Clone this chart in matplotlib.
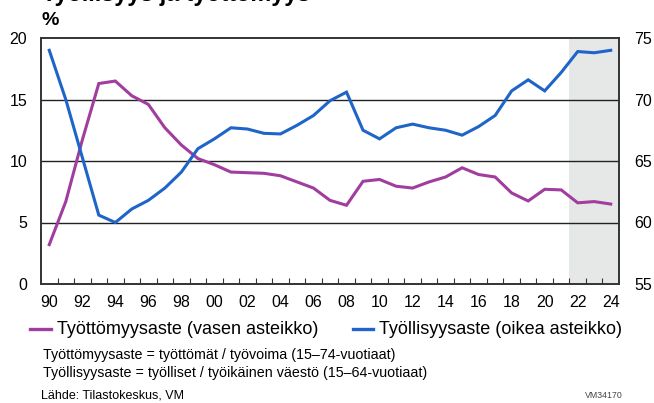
import matplotlib
matplotlib.use("Agg")
import matplotlib.pyplot as plt
import numpy as np

plt.rcParams['font.family'] = ['Liberation Sans', 'DejaVu Sans']

years = list(range(1990, 2025))
unemployment = [3.2, 6.7, 11.7, 16.3, 16.5, 15.3, 14.6, 12.7, 11.3, 10.2,
                9.7, 9.1, 9.05, 9.0, 8.8, 8.3, 7.8, 6.8, 6.4, 8.35,
                8.5, 7.95, 7.8, 8.3, 8.7, 9.45, 8.9, 8.7, 7.4, 6.75,
                7.7, 7.65, 6.6, 6.7, 6.5]
employment = [74.0, 70.0, 65.3, 60.6, 60.0, 61.1, 61.8, 62.8, 64.1, 66.0,
              66.8, 67.7, 67.6, 67.25, 67.2, 67.9, 68.7, 69.9, 70.6, 67.5,
              66.8, 67.7, 68.0, 67.7, 67.5, 67.1, 67.8, 68.7, 70.7, 71.6,
              70.7, 72.2, 73.9, 73.8, 74.0]
xtick_years = list(range(1990, 2025, 2))
xtick_labels = [f"{y % 100:02d}" for y in xtick_years]
left_ticks = [0, 5, 10, 15, 20]
right_ticks = [55, 60, 65, 70, 75]
forecast_start = 2021.5

purple = '#a13d9e'
blue = '#1f64c8'

fig = plt.figure(figsize=(6.54, 4.03), dpi=100)
ax = fig.add_axes([41/654, 1-284/403, (619-41)/654, (284-38)/403])
ax2 = ax.twinx()

ax.axvspan(forecast_start, 2024.5, color='#e6e8e8', zorder=0, lw=0)
for g in [5, 10, 15]:
    ax.axhline(g, color='#222222', lw=1.0, zorder=1)

ax.plot(years, unemployment, color=purple, lw=2.2, zorder=3, solid_joinstyle='miter')
ax2.plot(years, employment, color=blue, lw=2.2, zorder=3, solid_joinstyle='miter')

ax.set_xlim(1989.5, 2024.5)
ax.set_ylim(0, 20)
ax2.set_ylim(55, 75)
ax.set_yticks(left_ticks)
ax2.set_yticks(right_ticks)
ax.set_xticks(xtick_years)
ax.set_xticklabels(xtick_labels)
ax.set_xticks(np.arange(1990.5, 2024, 1), minor=True)
ax.tick_params(axis='x', which='major', length=0, pad=8, labelsize=11.5)
ax.tick_params(axis='x', which='minor', direction='in', length=4, width=0.8, color='#333333')
ax.tick_params(axis='y', length=0, pad=10, labelsize=11.5)
ax2.tick_params(axis='y', length=0, pad=11, labelsize=11.5)
for a in (ax, ax2):
    for s in a.spines.values():
        s.set_color('#333333')
        s.set_linewidth(1.2)

fig.text(42/654, 1-1.5/403, 'Työllisyys ja työttömyys', fontsize=16.8, fontweight='bold',
         va='baseline', ha='left')
fig.text(42/654, 1-25/403, '%', fontsize=14, fontweight='bold', va='baseline', ha='left')

# legend
ly = 1-329/403
fig.lines.append(plt.Line2D([30/654, 51/654], [ly, ly], color=purple, lw=2.4, transform=fig.transFigure))
fig.text(57/654, ly, 'Työttömyysaste (vasen asteikko)', fontsize=13, va='center', ha='left')
fig.lines.append(plt.Line2D([353/654, 373/654], [ly, ly], color=blue, lw=2.4, transform=fig.transFigure))
fig.text(379/654, ly, 'Työllisyysaste (oikea asteikko)', fontsize=13, va='center', ha='left')

fig.text(43/654, 1-355/403, 'Työttömyysaste = työttömät / työvoima (15–74-vuotiaat)', fontsize=10.3, va='center', ha='left')
fig.text(43/654, 1-373/403, 'Työllisyysaste = työlliset / työikäinen väestö (15–64-vuotiaat)', fontsize=10.3, va='center', ha='left')
fig.text(41/654, 1-396/403, 'Lähde: Tilastokeskus, VM', fontsize=9, va='center', ha='left')
fig.text(623/654, 1-396/403, 'VM34170', fontsize=6.3, va='center', ha='right', color='#444444')

fig.savefig('out.png', dpi=100)
